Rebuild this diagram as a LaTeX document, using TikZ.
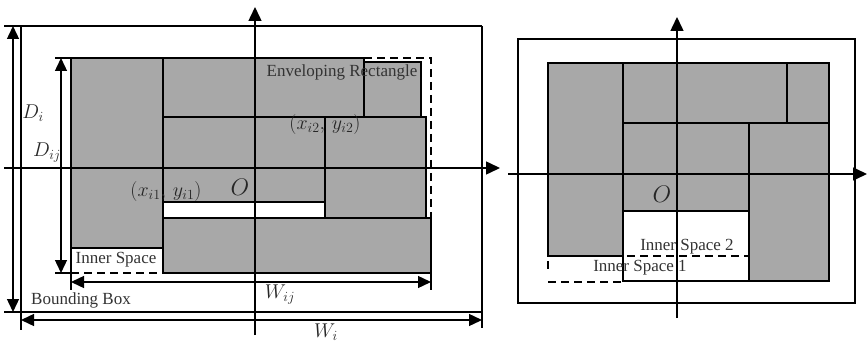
\RequirePackage{fix-cm}
\documentclass[tikz,border=0pt]{standalone}
\usepackage{fontspec}
\setmainfont{Liberation Serif}
\usetikzlibrary{arrows.meta}
\begin{document}
\begin{tikzpicture}[x=1pt,y=-1pt,
  blk/.style={fill=black!34, draw=black, line width=1.6pt},
  ln/.style={draw=black, line width=1.5pt},
  tip/.tip={Triangle[length=13pt,width=12pt]},
  dim/.style={line width=1.4pt, tip-tip},
  axis/.style={line width=1.5pt, -{Triangle[length=14pt,width=13pt]}},
  dsh/.style={line width=1.6pt, dash pattern=on 8pt off 5pt},
  lbl/.style={font=\fontsize{17}{20}\selectfont, text=black!80, inner sep=0pt},
  mth/.style={font=\fontsize{20}{24}\selectfont, text=black!85, inner sep=0pt},
  big/.style={font=\fontsize{24}{28}\selectfont, text=black!85, inner sep=0pt},
]
\useasboundingbox (0,0) rectangle (868,342);
% ---------- left figure: blocks ----------
\draw[blk] (71,58) rectangle (163,248);
\draw[blk] (163,58) rectangle (364,117);
\draw[blk] (364,62) rectangle (421,117);
\draw[blk] (163,117) rectangle (325,202);
\draw[blk] (325,117) rectangle (426,218);
\draw[ln] (163,202) rectangle (325,218);
\draw[blk] (163,218) rectangle (431,273);
% bounding box with extension lines
\coordinate (bbtl) at (21,26);
\coordinate (bbtr) at (482,26);
\coordinate (bbbl) at (21,312);
\coordinate (bbbr) at (482,312);
\draw[ln] (4,26) -- (bbtr);
\draw[ln] (4,312) -- (bbbr);
\draw[ln] (bbtl) -- (21,330);
\draw[ln] (bbtr) -- (482,328);
% enveloping rectangle (dashed)
\draw[dsh] (364,58) -- (431,58) -- (431,218);
\draw[ln] (431,273) -- (431,290);
% inner space dashed
\draw[dsh] (71,273) -- (163,273);
% extension lines for D_ij and W_ij
\draw[ln] (55,58) -- (71,58);
\draw[ln] (55,273) -- (71,273);
\draw[ln] (71,248) -- (71,290);
% dimension arrows
\coordinate (di1) at (13,26);  \coordinate (di2) at (13,312);
\coordinate (dij1) at (61,58); \coordinate (dij2) at (61,273);
\coordinate (wij1) at (71,282); \coordinate (wij2) at (431,282);
\coordinate (wi1) at (21,320); \coordinate (wi2) at (482,320);
\draw[dim] (di1) -- (di2);
\draw[dim] (dij1) -- (dij2);
\draw[dim] (wij1) -- (wij2);
\draw[dim] (wi1) -- (wi2);
% axes
\coordinate (ly0) at (255,335); \coordinate (ly1) at (255,7);
\coordinate (lx0) at (4,168);   \coordinate (lx1) at (500,168);
\draw[axis] (ly0) -- (ly1);
\draw[axis] (lx0) -- (lx1);
% labels
\node[lbl] (env) at (342,72) {Enveloping Rectangle};
\node[mth] (p2) at (325,125) {$(x_{i2},\,y_{i2})$};
\node[mth] (p1) at (166,192) {$(x_{i1},\,y_{i1})$};
\node[big] (o1) at (240,187) {$O$};
\node[mth] (lDi) at (33,113) {$D_i$};
\node[mth] (lDij) at (47,153) {$D_{ij}$};
\node[lbl] (inner) at (116,260) {Inner Space};
\node[lbl] (bbox) at (81,300) {Bounding Box};
\node[mth] (lWij) at (280,295) {$W_{ij}$};
\node[mth] (lWi) at (326,332) {$W_i$};
% ---------- right figure ----------
\draw[ln] (518,39) rectangle (855,303);
\draw[blk] (548,63) rectangle (623,256);
\draw[blk] (623,63) rectangle (787,123);
\draw[blk] (787,63) rectangle (829,123);
\draw[blk] (623,123) rectangle (749,211);
\draw[blk] (749,123) rectangle (829,281);
\draw[ln] (623,211) -- (623,281) -- (749,281);
\draw[dsh] (548,261) -- (548,272);
\draw[dsh] (548,282) -- (623,282);
\draw[dsh] (627,256) -- (749,256);
\coordinate (ry0) at (677,318); \coordinate (ry1) at (677,17);
\coordinate (rx0) at (508,174); \coordinate (rx1) at (867,174);
\draw[axis] (ry0) -- (ry1);
\draw[axis] (rx0) -- (rx1);
\node[big] (o2) at (662,194) {$O$};
\node[lbl] (is2) at (687,247) {Inner Space 2};
\node[lbl] (is1) at (640,268) {Inner Space 1};
\end{tikzpicture}
\end{document}
